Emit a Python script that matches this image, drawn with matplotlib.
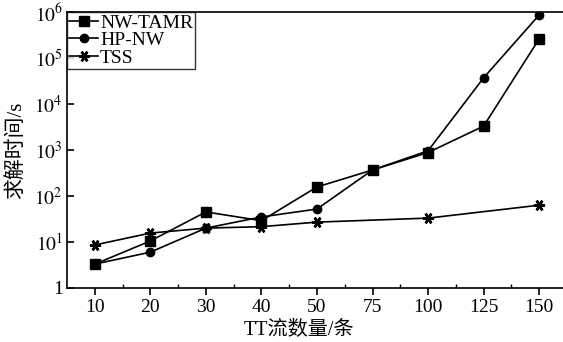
import matplotlib
matplotlib.use('Agg')
import matplotlib.pyplot as plt
import numpy as np

plt.rcParams['font.family'] = ['Liberation Serif', 'Noto Sans CJK SC']
plt.rcParams['mathtext.fontset'] = 'stix'

# categories on the x axis (TT flow count)
categories = ['10', '20', '30', '40', '50', '75', '100', '125', '150']

# solve times in seconds
nw_tamr = [3.3, 10.5, 45, 29, 157, 367, 880, 3300, 260000]
hp_nw = [3.3, 6.0, 20, 35, 52, 367, 960, 37000, 860000]
tss_cats = ['10', '20', '30', '40', '50', '100', '150']
tss = [8.6, 15.6, 20, 21.5, 27, 33, 63]

x_all = np.arange(len(categories))
x_tss = [categories.index(c) for c in tss_cats]

fig = plt.figure(figsize=(5.63, 3.42), dpi=100)
ax = fig.add_axes([0.119, 0.158, 0.888, 0.807])

ax.plot(x_all, nw_tamr, color='black', lw=1.2, marker='s', ms=6.5, label='NW-TAMR')
ax.plot(x_all, hp_nw, color='black', lw=1.2, marker='o', ms=6, label='HP-NW')
ax.plot(x_tss, tss, color='black', lw=1.2, marker=(6, 2, 90), ms=8, mew=1.8, label='TSS')

ax.set_yscale('log')
ax.set_ylim(1, 1e6)
ax.set_xlim(-0.5, 8.5)
ax.set_xticks(x_all)
ax.set_xticklabels(categories)
ax.set_xticks(x_all[:-1] + 0.5, minor=True)
ax.set_yticks([1, 10, 1e2, 1e3, 1e4, 1e5, 1e6])
ax.set_yticklabels(['1'] + [r'$10^{%d}$' % i for i in range(1, 7)])
ax.yaxis.set_minor_locator(matplotlib.ticker.NullLocator())

ax.tick_params(axis='x', which='major', direction='out', length=5, width=1.2, labelsize=14, pad=3)
ax.tick_params(axis='x', which='minor', direction='in', length=3, width=1)
ax.tick_params(axis='y', which='major', direction='in', length=5, width=1.2, labelsize=14, pad=3)
for s in ax.spines.values():
    s.set_linewidth(1.2)

ax.set_xlabel('TT流数量/条', fontsize=14.5)
ax.xaxis.set_label_coords(0.465, -0.115)
ax.set_ylabel('求解时间/s', fontsize=15, labelpad=6)

leg = ax.legend(loc='upper left', fontsize=14, frameon=True, fancybox=False,
                borderpad=0.1, labelspacing=0.0, handlelength=1.5, handletextpad=0.1,
                borderaxespad=0, edgecolor='black')
leg.get_frame().set_linewidth(1.0)

fig.savefig('out.png', dpi=100)
